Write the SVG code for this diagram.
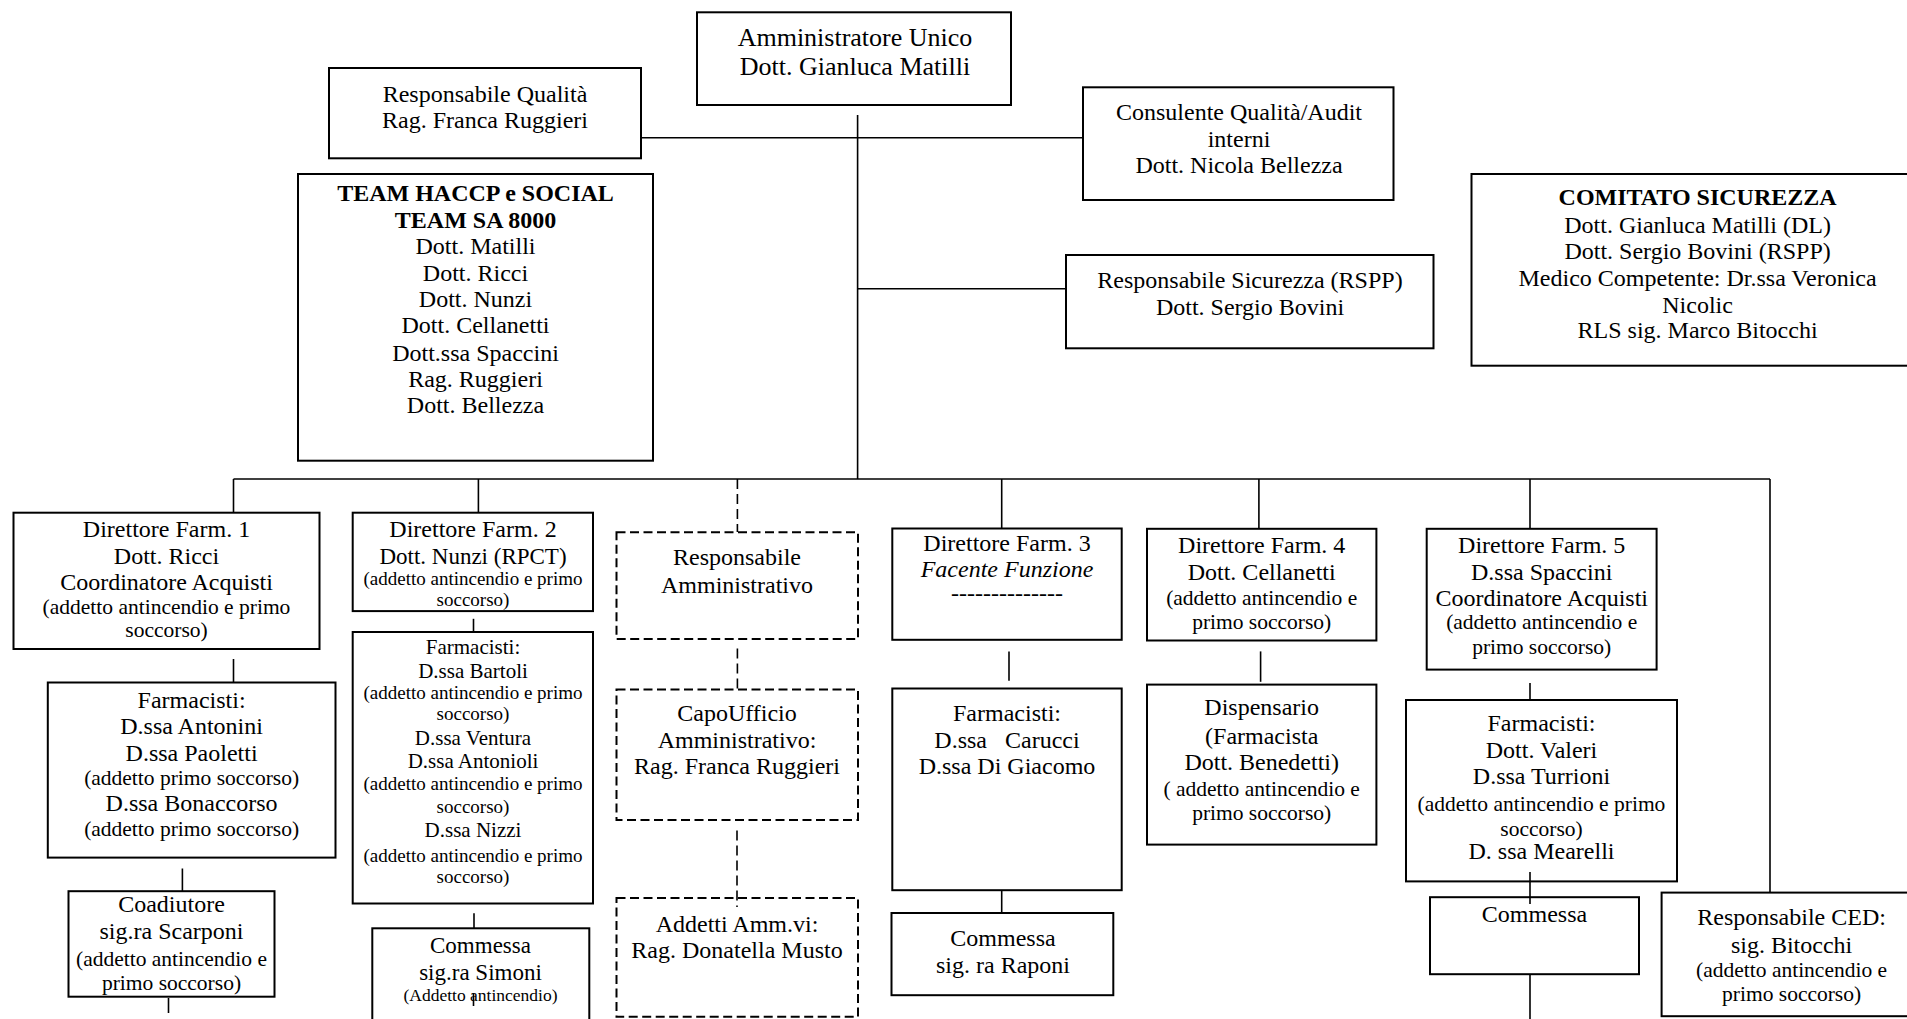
<svg xmlns="http://www.w3.org/2000/svg" width="1907" height="1019" viewBox="0 0 1907 1019">
<style>
.b{fill:none;stroke:#000;stroke-width:2}
.d{fill:none;stroke:#000;stroke-width:2;stroke-dasharray:9 4.5}
.l{fill:none;stroke:#000;stroke-width:1.6}
.ld{fill:none;stroke:#000;stroke-width:1.6;stroke-dasharray:10 5}
text{font-family:"Liberation Serif","Times New Roman",serif;fill:#000;text-anchor:middle}
.m{font-size:24px}
.s{font-size:21.5px}
.bo{font-weight:bold}
.it{font-style:italic}
</style>
<rect width="1907" height="1019" fill="#fff"/>
<g id="connectors">
<line class="l" x1="857.6" y1="115" x2="857.6" y2="479"/>
<line class="l" x1="641" y1="137.7" x2="1083" y2="137.7"/>
<line class="l" x1="857.6" y1="288.7" x2="1066" y2="288.7"/>
<line class="l" x1="233.5" y1="479" x2="1770" y2="479"/>
<line class="l" x1="233.5" y1="479" x2="233.5" y2="513"/>
<line class="l" x1="478.4" y1="479" x2="478.4" y2="513"/>
<line class="ld" x1="737.4" y1="479" x2="737.4" y2="532"/>
<line class="l" x1="1001.7" y1="479" x2="1001.7" y2="528.5"/>
<line class="l" x1="1258.9" y1="479" x2="1258.9" y2="529"/>
<line class="l" x1="1530" y1="479" x2="1530" y2="528.5"/>
<line class="l" x1="1770" y1="479" x2="1770" y2="892.6"/>
<line class="l" x1="233.5" y1="659" x2="233.5" y2="682.5"/>
<line class="l" x1="182.4" y1="868.5" x2="182.4" y2="891"/>
<line class="l" x1="168.5" y1="998" x2="168.5" y2="1013"/>
<line class="l" x1="473.5" y1="618.8" x2="473.5" y2="632"/>
<line class="l" x1="474" y1="913.3" x2="474" y2="928"/>
<line class="l" x1="473.5" y1="993" x2="473.5" y2="1006"/>
<line class="ld" x1="737.4" y1="648.6" x2="737.4" y2="689.5"/>
<line class="ld" x1="737" y1="830.6" x2="737" y2="907"/>
<line class="l" x1="1009" y1="651.4" x2="1009" y2="680.8"/>
<line class="l" x1="1001.7" y1="890" x2="1001.7" y2="913"/>
<line class="l" x1="1260.6" y1="651.4" x2="1260.6" y2="681.8"/>
<line class="l" x1="1530" y1="683" x2="1530" y2="700"/>
<line class="l" x1="1530" y1="872" x2="1530" y2="904"/>
<line class="l" x1="1530" y1="974" x2="1530" y2="1019"/>
</g>
<g id="amministratore">
<rect class="b" x="697" y="12.3" width="314" height="92.7"/>
<text style="font-size:26px"><tspan x="855" y="45.7">Amministratore Unico</tspan><tspan x="855" y="75">Dott. Gianluca Matilli</tspan></text>
</g>
<g id="resp-qualita">
<rect class="b" x="329" y="68" width="312" height="90.3"/>
<text class="m"><tspan x="485" y="101.7">Responsabile Qualità</tspan><tspan x="485" y="128.3">Rag. Franca Ruggieri</tspan></text>
</g>
<g id="team-haccp">
<rect class="b" x="298" y="174" width="355" height="286.7"/>
<text class="m"><tspan class="bo" x="475.5" y="201">TEAM HACCP e SOCIAL</tspan><tspan class="bo" x="475.5" y="227.7">TEAM SA 8000</tspan><tspan x="475.5" y="254.3">Dott. Matilli</tspan><tspan x="475.5" y="281">Dott. Ricci</tspan><tspan x="475.5" y="306.7">Dott. Nunzi</tspan><tspan x="475.5" y="333.3">Dott. Cellanetti</tspan><tspan x="475.5" y="360.7">Dott.ssa Spaccini</tspan><tspan x="475.5" y="387.3">Rag. Ruggieri</tspan><tspan x="475.5" y="413.3">Dott. Bellezza</tspan></text>
</g>
<g id="consulente">
<rect class="b" x="1083" y="87.3" width="310.5" height="112.7"/>
<text class="m"><tspan x="1239" y="120">Consulente Qualità/Audit</tspan><tspan x="1239" y="146.7">interni</tspan><tspan x="1239" y="173.3">Dott. Nicola Bellezza</tspan></text>
</g>
<g id="rspp">
<rect class="b" x="1066" y="255" width="367.5" height="93.3"/>
<text class="m"><tspan x="1250" y="288.3">Responsabile Sicurezza (RSPP)</tspan><tspan x="1250" y="315">Dott. Sergio Bovini</tspan></text>
</g>
<g id="comitato">
<rect class="b" x="1471.5" y="174" width="460" height="191.7"/>
<text class="m"><tspan class="bo" x="1697.6" y="205">COMITATO SICUREZZA</tspan><tspan x="1697.6" y="232.7">Dott. Gianluca Matilli (DL)</tspan><tspan x="1697.6" y="259.3">Dott. Sergio Bovini (RSPP)</tspan><tspan x="1697.6" y="286">Medico Competente: Dr.ssa Veronica</tspan><tspan x="1697.6" y="312.7">Nicolic</tspan><tspan x="1697.6" y="338.3">RLS sig. Marco Bitocchi</tspan></text>
</g>
<g id="farm1">
<rect class="b" x="13.5" y="512.7" width="306" height="136.3"/>
<text class="m"><tspan x="166.5" y="536.5">Direttore Farm. 1</tspan><tspan x="166.5" y="563.8">Dott. Ricci</tspan><tspan x="166.5" y="590.1">Coordinatore Acquisti</tspan></text>
<text class="s"><tspan x="166.5" y="613.6">(addetto antincendio e primo</tspan><tspan x="166.5" y="637.4">soccorso)</tspan></text>
</g>
<g id="farmacisti1">
<rect class="b" x="47.8" y="682.5" width="287.7" height="175.1"/>
<text class="m"><tspan x="191.6" y="708">Farmacisti:</tspan><tspan x="191.6" y="734.4">D.ssa Antonini</tspan><tspan x="191.6" y="760.6">D.ssa Paoletti</tspan></text>
<text class="s" x="191.6" y="785">(addetto primo soccorso)</text>
<text class="m" x="191.6" y="811.4">D.ssa Bonaccorso</text>
<text class="s" x="191.6" y="835.9">(addetto primo soccorso)</text>
</g>
<g id="coadiutore">
<rect class="b" x="68.5" y="891.2" width="206" height="105.5"/>
<text class="m"><tspan x="171.5" y="911.9">Coadiutore</tspan><tspan x="171.5" y="939.2">sig.ra Scarponi</tspan></text>
<text class="s"><tspan x="171.5" y="965.5">(addetto antincendio e</tspan><tspan x="171.5" y="990">primo soccorso)</tspan></text>
</g>
<g id="farm2">
<rect class="b" x="352.7" y="512.7" width="240.3" height="98.4"/>
<text class="m" x="473" y="536.5">Direttore Farm. 2</text>
<text style="font-size:23px" x="473" y="563.8">Dott. Nunzi (RPCT)</text>
<text style="font-size:19px"><tspan x="473" y="584.8">(addetto antincendio e primo</tspan><tspan x="473" y="605.9">soccorso)</tspan></text>
</g>
<g id="farmacisti2">
<rect class="b" x="352.7" y="632" width="240.3" height="271.5"/>
<text style="font-size:21px"><tspan x="473" y="653.8">Farmacisti:</tspan><tspan x="473" y="677.6">D.ssa Bartoli</tspan></text>
<text style="font-size:19px"><tspan x="473" y="699.3">(addetto antincendio e primo</tspan><tspan x="473" y="720.4">soccorso)</tspan></text>
<text style="font-size:21px"><tspan x="473" y="744.9">D.ssa Ventura</tspan><tspan x="473" y="768.3">D.ssa Antonioli</tspan></text>
<text style="font-size:19px"><tspan x="473" y="790.4">(addetto antincendio e primo</tspan><tspan x="473" y="813.1">soccorso)</tspan></text>
<text style="font-size:21px" x="473" y="837">D.ssa Nizzi</text>
<text style="font-size:19px"><tspan x="473" y="862.2">(addetto antincendio e primo</tspan><tspan x="473" y="883.2">soccorso)</tspan></text>
</g>
<g id="commessa-simoni">
<rect class="b" x="372.3" y="928.3" width="217" height="110"/>
<text style="font-size:23px"><tspan x="480.5" y="953.2">Commessa</tspan><tspan x="480.5" y="979.5">sig.ra Simoni</tspan></text>
<text style="font-size:17.5px" x="480.5" y="1000.5">(Addetto antincendio)</text>
</g>
<g id="resp-amministrativo">
<rect class="d" x="616.5" y="532.3" width="241.5" height="106.7"/>
<text class="m"><tspan x="737" y="565.2">Responsabile</tspan><tspan x="737" y="592.5">Amministrativo</tspan></text>
</g>
<g id="capoufficio">
<rect class="d" x="616.5" y="689.5" width="241.5" height="130.5"/>
<text class="m"><tspan x="737" y="721.4">CapoUfficio</tspan><tspan x="737" y="748.4">Amministrativo:</tspan><tspan x="737" y="773.9">Rag. Franca Ruggieri</tspan></text>
</g>
<g id="addetti-amm">
<rect class="d" x="616.5" y="898" width="241.5" height="118.7"/>
<text class="m"><tspan x="737" y="932.2">Addetti Amm.vi:</tspan><tspan x="737" y="958.4">Rag. Donatella Musto</tspan></text>
</g>
<g id="farm3">
<rect class="b" x="892.3" y="528.5" width="229.4" height="111.3"/>
<text class="m"><tspan x="1007" y="550.5">Direttore Farm. 3</tspan><tspan class="it" x="1007" y="576.8">Facente Funzione</tspan><tspan x="1007" y="601.3">--------------</tspan></text>
</g>
<g id="farmacisti3">
<rect class="b" x="892.3" y="688.5" width="229.4" height="201.7"/>
<text class="m" xml:space="preserve"><tspan x="1007" y="721.4">Farmacisti:</tspan><tspan x="1007" y="748.4">D.ssa   Carucci</tspan><tspan x="1007" y="773.9">D.ssa Di Giacomo</tspan></text>
</g>
<g id="commessa-raponi">
<rect class="b" x="891.5" y="913" width="221.8" height="82.2"/>
<text class="m"><tspan x="1003" y="946.2">Commessa</tspan><tspan x="1003" y="972.5">sig. ra Raponi</tspan></text>
</g>
<g id="farm4">
<rect class="b" x="1147" y="528.8" width="229.4" height="111.7"/>
<text class="m"><tspan x="1261.7" y="553.3">Direttore Farm. 4</tspan><tspan x="1261.7" y="580.3">Dott. Cellanetti</tspan></text>
<text class="s"><tspan x="1261.7" y="604.8">(addetto antincendio e</tspan><tspan x="1261.7" y="629.3">primo soccorso)</tspan></text>
</g>
<g id="dispensario">
<rect class="b" x="1147" y="684.6" width="229.4" height="160"/>
<text class="m"><tspan x="1261.7" y="715">Dispensario</tspan><tspan x="1261.7" y="743.8">(Farmacista</tspan><tspan x="1261.7" y="770.4">Dott. Benedetti)</tspan></text>
<text class="s"><tspan x="1261.7" y="795.6">( addetto antincendio e</tspan><tspan x="1261.7" y="820.1">primo soccorso)</tspan></text>
</g>
<g id="farm5">
<rect class="b" x="1426.7" y="528.8" width="229.9" height="140.8"/>
<text class="m"><tspan x="1541.7" y="553.3">Direttore Farm. 5</tspan><tspan x="1541.7" y="580.3">D.ssa Spaccini</tspan><tspan x="1541.7" y="605.9">Coordinatore Acquisti</tspan></text>
<text class="s"><tspan x="1541.7" y="629.3">(addetto antincendio e</tspan><tspan x="1541.7" y="653.8">primo soccorso)</tspan></text>
</g>
<g id="farmacisti5">
<rect class="b" x="1406" y="700" width="271" height="181.4"/>
<text class="m"><tspan x="1541.5" y="730.9">Farmacisti:</tspan><tspan x="1541.5" y="757.8">Dott. Valeri</tspan><tspan x="1541.5" y="784.4">D.ssa Turrioni</tspan></text>
<text class="s"><tspan x="1541.5" y="811.4">(addetto antincendio e primo</tspan><tspan x="1541.5" y="835.9">soccorso)</tspan></text>
<text class="m" x="1541.5" y="859.4">D. ssa Mearelli</text>
</g>
<g id="commessa5">
<rect class="b" x="1430" y="897.2" width="209" height="77"/>
<text class="m" x="1534.5" y="921.7">Commessa</text>
</g>
<g id="ced">
<rect class="b" x="1661.6" y="892.6" width="270" height="123.6"/>
<text class="m"><tspan x="1791.6" y="925.2">Responsabile CED:</tspan><tspan x="1791.6" y="952.5">sig. Bitocchi</tspan></text>
<text class="s"><tspan x="1791.6" y="977">(addetto antincendio e</tspan><tspan x="1791.6" y="1000.5">primo soccorso)</tspan></text>
</g>
</svg>
